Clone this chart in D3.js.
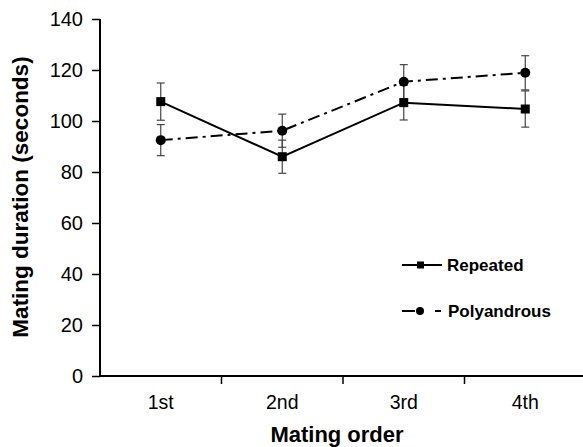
<!DOCTYPE html>
<html>
<head>
<meta charset="utf-8">
<script src="https://cdn.jsdelivr.net/npm/d3@7"></script>
<style>
  body { margin: 0; background: #fff; }
  text { font-family: "Liberation Sans", Arial, sans-serif; }
</style>
</head>
<body>
<svg id="chart" width="583" height="447"></svg>
<script>
// data
var categories = ["1st", "2nd", "3rd", "4th"];
var repeated = [107.6, 86.0, 107.2, 104.7];
var repeatedErr = [7.3, 6.5, 6.8, 7.1];
var polyandrous = [92.5, 96.2, 115.4, 118.9];
var polyandrousErr = [6.1, 6.5, 6.7, 6.7];
var yTicks = [0, 20, 40, 60, 80, 100, 120, 140];

var svg = d3.select("#chart");

var x = d3.scaleBand()
    .domain(categories)
    .range([100, 586]);

var y = d3.scaleLinear()
    .domain([0, 140])
    .range([376, 19]);

// y axis
var yAxis = svg.append("g")
    .attr("transform", "translate(100,0)")
    .call(d3.axisLeft(y).tickValues(yTicks).tickSize(8).tickPadding(9));
yAxis.select(".domain").attr("stroke-width", 2).attr("d", "M0," + y(140) + "V" + y(0));
yAxis.selectAll(".tick line").attr("stroke-width", 1.5);
yAxis.selectAll(".tick text").attr("font-size", 20).attr("fill", "#000");

// x axis
var xAxis = svg.append("g")
    .attr("transform", "translate(0," + y(0) + ")")
    .call(d3.axisBottom(x).tickSize(0));
xAxis.select(".domain").attr("stroke-width", 2).attr("d", "M99,0H583");
xAxis.selectAll(".tick text")
    .attr("font-size", 19.5)
    .attr("fill", "#000")
    .attr("dy", null)
    .attr("y", 33);

// x tick marks sit at the band boundaries
svg.append("g").selectAll("line")
    .data(categories.slice(1))
    .join("line")
    .attr("x1", function (d) { return x(d); })
    .attr("x2", function (d) { return x(d); })
    .attr("y1", y(0))
    .attr("y2", y(0) + 8)
    .attr("stroke", "#000")
    .attr("stroke-width", 1.5);

// axis titles
svg.append("text")
    .attr("x", 337)
    .attr("y", 442)
    .attr("text-anchor", "middle")
    .attr("font-size", 22)
    .attr("font-weight", "bold")
    .text("Mating order");

svg.append("text")
    .attr("transform", "translate(28,197) rotate(-90)")
    .attr("text-anchor", "middle")
    .attr("font-size", 22.5)
    .attr("font-weight", "bold")
    .text("Mating duration (seconds)");

function cx(d, i) { return x(categories[i]) + x.bandwidth() / 2; }

function drawErrors(values, errs) {
    var g = svg.append("g").attr("stroke", "#444").attr("stroke-width", 1.2);
    values.forEach(function (v, i) {
        var px = cx(v, i);
        g.append("line").attr("x1", px).attr("x2", px)
            .attr("y1", y(v + errs[i])).attr("y2", y(v - errs[i]));
        g.append("line").attr("x1", px - 4).attr("x2", px + 4)
            .attr("y1", y(v + errs[i])).attr("y2", y(v + errs[i]));
        g.append("line").attr("x1", px - 4).attr("x2", px + 4)
            .attr("y1", y(v - errs[i])).attr("y2", y(v - errs[i]));
    });
}

drawErrors(repeated, repeatedErr);
drawErrors(polyandrous, polyandrousErr);

var line = d3.line()
    .x(function (d, i) { return cx(d, i); })
    .y(function (d) { return y(d); });

svg.append("path")
    .datum(polyandrous)
    .attr("d", line)
    .attr("fill", "none")
    .attr("stroke", "#000")
    .attr("stroke-width", 2)
    .attr("stroke-dasharray", "12,5,3,5");

svg.append("path")
    .datum(repeated)
    .attr("d", line)
    .attr("fill", "none")
    .attr("stroke", "#000")
    .attr("stroke-width", 2);

svg.append("g").selectAll("circle")
    .data(polyandrous)
    .join("circle")
    .attr("cx", cx)
    .attr("cy", function (d) { return y(d); })
    .attr("r", 5);

svg.append("g").selectAll("rect")
    .data(repeated)
    .join("rect")
    .attr("x", function (d, i) { return cx(d, i) - 4.5; })
    .attr("y", function (d) { return y(d) - 4.5; })
    .attr("width", 9)
    .attr("height", 9);

// legend
var legend = svg.append("g").attr("font-size", 17).attr("font-weight", "bold");

legend.append("line").attr("x1", 402).attr("x2", 442).attr("y1", 265).attr("y2", 265)
    .attr("stroke", "#000").attr("stroke-width", 2);
legend.append("rect").attr("x", 417).attr("y", 261.5).attr("width", 7).attr("height", 7);
legend.append("text").attr("x", 447).attr("y", 271).text("Repeated");

legend.append("line").attr("x1", 402).attr("x2", 415).attr("y1", 311).attr("y2", 311)
    .attr("stroke", "#000").attr("stroke-width", 2);
legend.append("circle").attr("cx", 420).attr("cy", 311).attr("r", 4);
legend.append("line").attr("x1", 435).attr("x2", 441).attr("y1", 311).attr("y2", 311)
    .attr("stroke", "#000").attr("stroke-width", 2);
legend.append("text").attr("x", 448).attr("y", 317).text("Polyandrous");
</script>
</body>
</html>
